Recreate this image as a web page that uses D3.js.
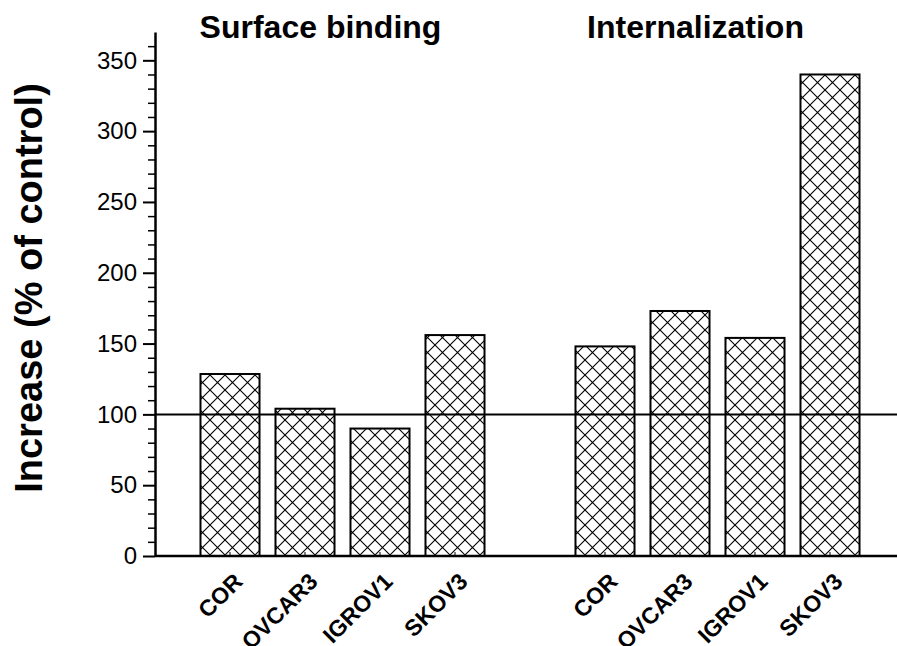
<!DOCTYPE html>
<html>
<head>
<meta charset="utf-8">
<script src="https://cdn.jsdelivr.net/npm/d3@7"></script>
<style>
  body { margin: 0; background: #fff; }
  text { font-family: "Liberation Sans", Arial, Helvetica, sans-serif; fill: #000; }
</style>
</head>
<body>
<svg></svg>
<script>
// values
var groups = ["Surface binding", "Internalization"];
var cellLines = ["COR", "OVCAR3", "IGROV1", "SKOV3"];
var surfaceValues = [128.5, 104, 90, 156];
var internalValues = [148, 173, 154, 340];
var yTicks = [0, 50, 100, 150, 200, 250, 300, 350];
var yMinorTicks = d3.range(10, 370, 10).filter(function(v) { return v % 50 !== 0; });
var controlLevel = 100;

var width = 897, height = 646;
var margin = { left: 155, right: 0, top: 32, bottom: 90 };

var svg = d3.select("svg")
            .attr("width", width)
            .attr("height", height);

// one band per bar, with an empty slot between the two groups
var keys = [];
cellLines.forEach(function(c) { keys.push(groups[0] + "|" + c); });
keys.push("gap");
cellLines.forEach(function(c) { keys.push(groups[1] + "|" + c); });

var bars = [];
cellLines.forEach(function(c, i) { bars.push({ key: groups[0] + "|" + c, value: surfaceValues[i] }); });
cellLines.forEach(function(c, i) { bars.push({ key: groups[1] + "|" + c, value: internalValues[i] }); });

var xscale = d3.scaleBand()
               .domain(keys)
               .range([192.5, 867.5])
               .paddingInner(0.213)
               .paddingOuter(0.1065);

var yscale = d3.scaleLinear()
               .domain([0, 370])
               .range([height - margin.bottom, margin.top]);

// cross hatch fill
var pat = svg.append("defs").append("pattern")
             .attr("id", "xhatch")
             .attr("patternUnits", "userSpaceOnUse")
             .attr("width", 15)
             .attr("height", 15);
pat.append("rect").attr("width", 15).attr("height", 15).attr("fill", "#fff");
pat.append("path")
   .attr("d", "M-1,-1L16,16M16,-1L-1,16")
   .attr("stroke", "#000")
   .attr("stroke-width", 1.1);

svg.append("g")
   .selectAll("rect")
   .data(bars)
   .enter()
   .append("rect")
   .attr("x", function(d) { return xscale(d.key); })
   .attr("y", function(d) { return yscale(d.value); })
   .attr("width", xscale.bandwidth())
   .attr("height", function(d) { return yscale(0) - yscale(d.value); })
   .attr("fill", "url(#xhatch)")
   .attr("stroke", "#000")
   .attr("stroke-width", 2);

// y axis
var yaxis_g = svg.append("g")
   .attr("transform", "translate(" + margin.left + ",0)")
   .call(d3.axisLeft(yscale).tickValues(yTicks).tickSizeInner(12).tickSizeOuter(0).tickPadding(6));
yaxis_g.select(".domain").attr("stroke-width", 2.5);
yaxis_g.selectAll(".tick line").attr("stroke-width", 2);
yaxis_g.selectAll(".tick text").attr("font-size", 24).attr("font-family", null);

var yminor_g = svg.append("g")
   .attr("transform", "translate(" + margin.left + ",0)")
   .call(d3.axisLeft(yscale).tickValues(yMinorTicks).tickSize(7).tickFormat(""));
yminor_g.select(".domain").remove();
yminor_g.selectAll(".tick line").attr("stroke-width", 1.5);

// x axis: tiny inward ticks, rotated labels
var xaxis_g = svg.append("g")
   .attr("transform", "translate(0," + yscale(0) + ")")
   .call(d3.axisBottom(xscale)
           .tickValues(keys.filter(function(k) { return k !== "gap"; }))
           .tickSize(-4)
           .tickFormat(function(k) { return k.split("|")[1]; }));
xaxis_g.select(".domain").remove();
xaxis_g.selectAll(".tick line").attr("stroke-width", 1);
xaxis_g.selectAll(".tick text")
       .attr("font-size", 23)
       .attr("font-weight", "bold")
       .attr("font-family", null)
       .attr("text-anchor", "end")
       .attr("x", 0).attr("y", 0).attr("dy", 0)
       .attr("transform", "translate(14,27) rotate(-45)");

svg.append("line")
   .attr("x1", margin.left).attr("x2", width)
   .attr("y1", yscale(0)).attr("y2", yscale(0))
   .attr("stroke", "#000").attr("stroke-width", 2.5);

// control level
svg.append("line")
   .attr("x1", margin.left).attr("x2", width)
   .attr("y1", yscale(controlLevel)).attr("y2", yscale(controlLevel))
   .attr("stroke", "#000").attr("stroke-width", 2);

// group titles
groups.forEach(function(g) {
  var first = xscale(g + "|" + cellLines[0]);
  var last = xscale(g + "|" + cellLines[cellLines.length - 1]) + xscale.bandwidth();
  svg.append("text")
     .attr("x", (first + last) / 2 - 22)
     .attr("y", 38)
     .attr("text-anchor", "middle")
     .attr("font-size", 32)
     .attr("font-weight", "bold")
     .text(g);
});

svg.append("text")
   .attr("transform", "translate(42," + 288 + ") rotate(-90)")
   .attr("text-anchor", "middle")
   .attr("font-size", 38)
   .attr("font-weight", "bold")
   .text("Increase (% of control)");
</script>
</body>
</html>
